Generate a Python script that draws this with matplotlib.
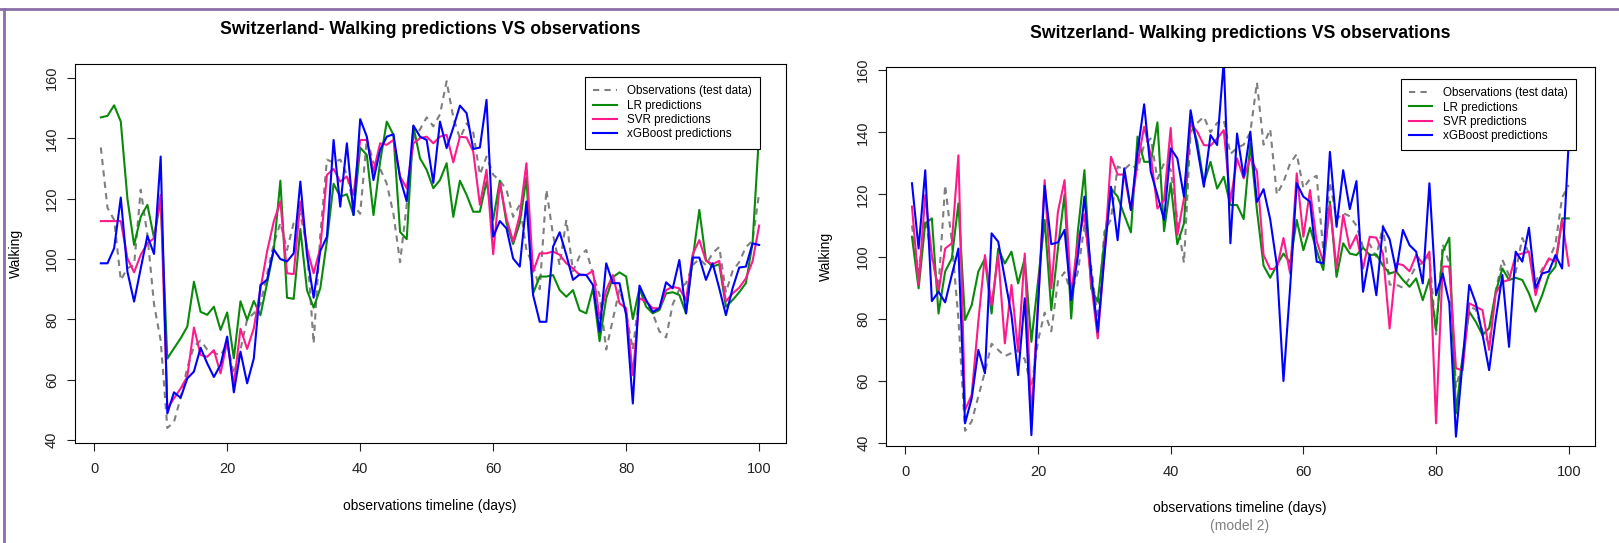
import matplotlib.pyplot as plt
from matplotlib.lines import Line2D

plt.rcParams['font.family'] = ['Liberation Sans', 'DejaVu Sans']

days = list(range(1, 101))
x_ticks = [0, 20, 40, 60, 80, 100]
y_ticks = [40, 60, 80, 100, 120, 140, 160]

series_names = ["Observations (test data)", "LR predictions", "SVR predictions", "xGBoost predictions"]
series_colors = ["#7f7f7f", "#0a8a0a", "#ff1a8c", "#0000ff"]

# model 1 (left panel)
obs_1 = [137, 117, 113, 93, 97, 98, 123, 108, 85, 73,
         44, 46, 54, 64, 71, 73, 70, 69, 68, 72,
         62, 70, 80, 82, 85, 95, 105, 112, 103, 112,
         115, 104, 72, 108, 133, 132, 133, 128, 118, 115,
         140, 132, 130, 125, 115, 99, 118, 140, 143, 147,
         144, 148, 159, 147, 140, 145, 142, 128, 134, 128,
         126, 123, 114, 118, 103, 98, 90, 123, 108, 98,
         113, 96, 101, 103, 95, 88, 70, 80, 90, 82,
         70, 88, 85, 82, 76, 74, 85, 90, 92, 98,
         100, 98, 102, 104, 89, 96, 99, 104, 106, 122]
lr_1 = [147, 147.5, 151, 145.6, 120, 104.7, 114, 118, 107, 120,
        67, 70.4, 73.7, 77.6, 92.5, 82.5, 81.5, 84.2, 76.5, 82.3,
        67.1, 86, 79.8, 86.1, 81.4, 92, 103, 126, 87.2, 86.8,
        110, 89.7, 83.9, 90.3, 106, 125, 120.7, 121.5, 114.6, 137,
        134.5, 114.6, 132.3, 145.6, 141.2, 109, 106.6, 144, 133.4, 129.6,
        123.5, 126.2, 131.8, 114, 126, 121.3, 115.7, 115.7, 125.7, 113,
        126, 112, 105, 112, 127, 88.6, 94.2, 94.2, 94.7, 89.7,
        87.5, 89.7, 83, 82, 90.3, 72.8, 87, 94, 95.6, 94.2,
        80.1, 90.3, 84.2, 82, 83.1, 88.6, 89, 88.1, 82, 100,
        116.3, 99.7, 97.5, 98.3, 84.2, 86.4, 89, 92, 105.2, 142]
svr_1 = [112.6, 112.6, 112.6, 112.6, 100.2, 95.6, 101.4, 105.2, 106.9, 121.3,
         50.5, 53.8, 57.1, 61, 77.3, 68.2, 67.6, 69.8, 62.1, 72.6,
         58.2, 76.9, 70.2, 77, 90, 102.5, 112.4, 119.1, 95.3, 95,
         119.1, 103.6, 95.3, 103.6, 127.9, 129.9, 125.7, 127.4, 121.3, 139.5,
         139.5, 129, 138.4, 137.9, 139.5, 127.4, 123.5, 138.4, 140.1, 140.6,
         138.4, 140.6, 141.2, 132.1, 140.6, 140.3, 135.7, 118, 129.6, 101.6,
         125.1, 113.5, 105.8, 114.6, 131.8, 95.8, 101.9, 101.9, 102.5, 101.4,
         98.6, 96.9, 94.7, 94.7, 96.1, 80.4, 89.7, 94.7, 85.3, 83.7,
         61.5, 87, 85.9, 83.7, 83.7, 89.7, 90.8, 90.3, 86.4, 101.6,
         106.3, 99.4, 98.3, 99.4, 85.9, 88.6, 90.5, 93.6, 99.2, 111.1]
xgb_1 = [98.6, 98.6, 103.6, 120.4, 95.8, 85.9, 96.9, 107.7, 101.7, 134,
         48.8, 55.8, 54, 60.4, 62.7, 70.6, 65.4, 60.9, 64.9, 74.3,
         55.8, 69.3, 58.8, 67, 91.4, 93.1, 103.2, 100, 99.2, 101.9,
         125.7, 101.4, 87.2, 102.7, 107.4, 139.5, 117.4, 138.4, 114.6, 146.4,
         140.6, 126.2, 136.2, 140.6, 141.4, 126.8, 119.1, 144.3, 140.6, 139.5,
         125.3, 145.6, 136.8, 143.6, 150.9, 148.4, 136.5, 137, 152.8, 107.4,
         112.6, 110.2, 100.2, 97.5, 119.1, 88.1, 79.2, 79.2, 104.1, 108.9,
         101.4, 93.1, 94.9, 94.7, 91.4, 75.9, 98.6, 92, 92, 81.4,
         52.1, 91.2, 86.4, 82.5, 83.7, 92.3, 90.3, 99.7, 82, 100.5,
         100.5, 93.1, 98.6, 90.3, 81.4, 90.3, 97.2, 97.5, 105.2, 104.7]

# model 2 (right panel)
obs_2 = [110, 95, 112, 100, 90, 123, 105, 80, 44, 47,
         55, 63, 72, 70, 68, 69, 70, 67, 58, 73,
         82, 76, 92, 95, 88, 95, 110, 97, 80, 108,
         112, 129, 128, 130, 128, 136, 138, 125, 130, 128,
         112, 98, 140, 143, 145, 140, 143, 144, 133, 135,
         136, 140, 156, 136, 141, 120, 124, 130, 133, 122,
         125, 126, 102, 124, 112, 114, 113, 110, 103, 104,
         100, 110, 91, 91, 90, 93, 97, 98, 100, 75,
         104, 98, 58, 66, 84, 83, 76, 72, 89, 99,
         94, 95, 106, 101, 92, 96, 99, 104, 119, 123]
lr_2 = [106.4, 89.8, 110.7, 112.3, 81.7, 95.2, 99.4, 117.1, 79.6, 84.4,
        95.2, 99.4, 81.7, 102.6, 97.8, 101.6, 91.4, 99.4, 72.6, 92,
        111.8, 82.8, 102.6, 120, 80.1, 108, 127.8, 89.8, 85.5, 105,
        121.9, 119.3, 113.4, 107.8, 138.6, 130.5, 130.5, 143.2, 108.2, 123.6,
        104, 110.7, 143.9, 137, 123.6, 130.5, 121.9, 125.7, 116.6, 116.6,
        112.1, 136.4, 115, 97.1, 93.2, 97.3, 101, 98, 111.8, 102.1,
        109.3, 102, 95.7, 117.7, 93.5, 104.3, 101, 100.5, 102.9, 100.5,
        100.7, 97.1, 94.6, 95.2, 92.5, 90.3, 93, 86, 92.8, 76.4,
        101.6, 106.1, 49.6, 68, 82.3, 79, 74.8, 77, 88.7, 96.2,
        92.5, 93.2, 92.5, 88.2, 82.3, 87.6, 94.1, 96.8, 112.3, 112.3]
svr_2 = [116.1, 90.9, 119.8, 100.5, 88.5, 102.6, 104.3, 132.6, 50.7, 55.5,
         79.1, 100.5, 84.4, 100.5, 72.1, 90.9, 69.4, 101, 48, 85,
         124.6, 89.8, 114.4, 124.6, 87.6, 104.8, 113.6, 92, 73.7, 100,
         132.1, 126.4, 126.4, 115, 130, 141.8, 132.7, 115.5, 118.2, 141.4,
         107, 118.7, 142.8, 140.2, 135.9, 135.7, 138, 140.7, 117.7, 131.6,
         125.2, 131.6, 127.5, 100.5, 96, 96.2, 106, 94.6, 126.8, 106.4,
         121.4, 105, 98.4, 116.6, 96.2, 113.4, 102.6, 106.9, 96.2, 106.4,
         106.1, 101, 76.9, 97.8, 97.3, 95.3, 100.5, 97.8, 101.6, 46.4,
         96.8, 96.8, 64.1, 63.5, 85, 83.9, 82.8, 70, 88.2, 91.9,
         92.5, 100.5, 101, 101.6, 87.6, 95.2, 99.4, 98.4, 111.8, 97.1]
xgb_2 = [123.6, 102.6, 127.8, 85.7, 88.7, 85.3, 94.1, 102.6, 46.4, 54.4,
         70, 62.5, 107.5, 104.8, 93, 81.2, 61.9, 86.6, 42.6, 84,
         122.8, 104, 104.6, 108.6, 86, 100, 119.3, 95, 75.8, 100,
         122.5, 105.3, 128.4, 115, 133.7, 149, 127.3, 119.8, 111.8, 134.8,
         131.6, 119.3, 147.1, 135, 122.5, 139.1, 135.9, 163, 104.3, 139.6,
         125.7, 140.2, 117.6, 121.7, 112, 97.3, 60, 90, 123.6, 119.3,
         117.7, 98.4, 97.8, 133.7, 109.6, 127.8, 115.3, 124.3, 88.7, 100.7,
         87.6, 109.6, 105.6, 95.3, 108.6, 103.7, 101.6, 91.4, 123.6, 87.6,
         94.6, 85, 42.1, 66, 90.9, 85, 75, 63.5, 80, 94.1,
         71, 101.6, 98.4, 109.3, 89.8, 94.6, 95.2, 100.5, 96.2, 137]

W, H = 1619, 543


def rect(left, top, right, bottom):
    return [left / W, 1 - bottom / H, (right - left) / W, (bottom - top) / H]


def draw_panel(ax, values, ylim, legend_anchor):
    styles = [(0, (3, 2.5)), "-", "-", "-"]
    for vals, name, col, ls in zip(values, series_names, series_colors, styles):
        ax.plot(days, vals, color=col, lw=1.5, ls=ls, label=name)

    ax.set_xlim(-2.96, 103.96)
    ax.set_ylim(*ylim)
    ax.set_xticks(x_ticks)
    ax.set_yticks(y_ticks)
    ax.tick_params(direction="out", length=5.6, width=0.8, labelsize=10.5, colors="#222222")
    ax.tick_params(axis="x", pad=8)
    ax.tick_params(axis="y", pad=5.5, labelrotation=90)
    for lab in ax.get_yticklabels():
        lab.set_va("center")
    for sp in ax.spines.values():
        sp.set_linewidth(0.8)

    leg = ax.legend(loc="upper right", bbox_to_anchor=legend_anchor, borderaxespad=0,
                    fontsize=8.4, frameon=True, fancybox=False, edgecolor="black",
                    framealpha=1, handlelength=2.0, handletextpad=0.9,
                    labelspacing=0.2, borderpad=0.7)
    leg.get_frame().set_linewidth(0.8)
    leg.set_zorder(5)


fig = plt.figure(figsize=(W / 100, H / 100), dpi=100)

ax1 = fig.add_axes(rect(74.5, 64.3, 785.5, 442.7))
draw_panel(ax1, [obs_1, lr_1, svr_1, xgb_1], (39.1, 164.6), (0.9641, 0.9656))

ax2 = fig.add_axes(rect(885.7, 67.3, 1595, 445.7))
draw_panel(ax2, [obs_2, lr_2, svr_2, xgb_2], (39.2, 160.9), (0.9728, 0.969))

title = "Switzerland- Walking predictions VS observations"
fig.text(430 / W, 1 - 29.5 / H, title, ha="center", va="center", fontsize=12.7, fontweight="bold")
fig.text(1240 / W, 1 - 33 / H, title, ha="center", va="center", fontsize=12.7, fontweight="bold")

fig.text(430 / W, 1 - 506 / H, "observations timeline (days)", ha="center", va="center", fontsize=10)
fig.text(1240 / W, 1 - 508 / H, "observations timeline (days)", ha="center", va="center", fontsize=10)
fig.text(1240 / W, 1 - 526 / H, "(model 2)", ha="center", va="center", fontsize=10, color="#808080")

fig.text(15.5 / W, 1 - 253.5 / H, "Walking", ha="center", va="center", rotation=90, fontsize=10)
fig.text(826 / W, 1 - 256.5 / H, "Walking", ha="center", va="center", rotation=90, fontsize=10)

# purple frame of the screenshot
fig.add_artist(Line2D([0, 1], [1 - 9 / H, 1 - 9 / H], transform=fig.transFigure, color="#8a6fa8", lw=2.0))
fig.add_artist(Line2D([3.8 / W, 3.8 / W], [0, 1 - 9 / H], transform=fig.transFigure, color="#8a6fa8", lw=2.0))

fig.savefig("out.png", dpi=100)
